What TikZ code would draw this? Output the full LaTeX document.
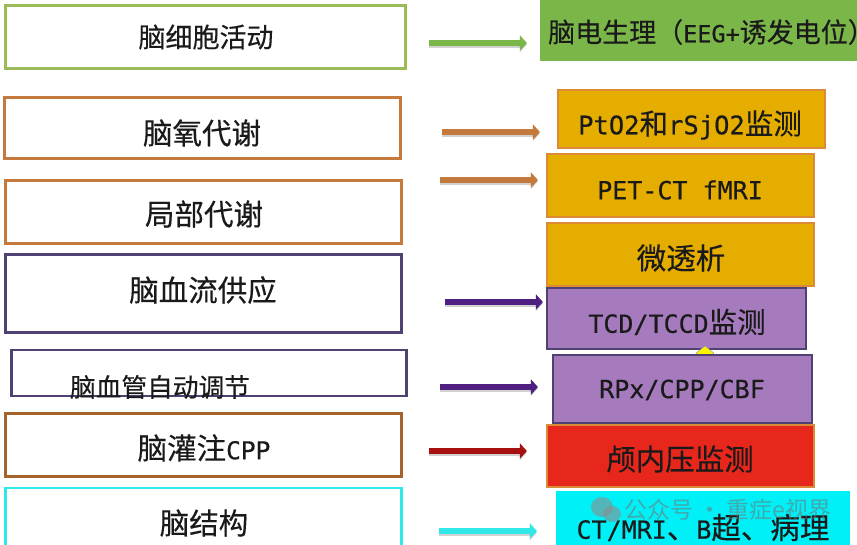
\documentclass[tikz,border=0pt]{standalone}
\usepackage{fontspec}
\newfontfamily\cjk{Noto Sans CJK SC}[FakeBold=0.35]
\newfontfamily\markfont{Noto Sans CJK SC}
\newfontfamily\lat{DejaVu Sans Mono}[FakeBold=0.5]
\newcommand{\latin}[2][25]{{\fontsize{#1}{30}\selectfont\lat #2}}
\usetikzlibrary{arrows.meta,shapes.geometric}
\definecolor{olivegreen}{HTML}{9BBB59}
\definecolor{leafgreen}{HTML}{7AB648}
\definecolor{rustline}{HTML}{C47A3C}
\definecolor{darkrust}{HTML}{A5622A}
\definecolor{amberfill}{HTML}{E5AD00}
\definecolor{amberline}{HTML}{DB8B35}
\definecolor{inkpurple}{HTML}{4F4272}
\definecolor{lilacfill}{HTML}{A67BBE}
\definecolor{deeppurple}{HTML}{4F1F82}
\definecolor{alarmred}{HTML}{E7271B}
\definecolor{darkred}{HTML}{A80F10}
\definecolor{brightcyan}{HTML}{00F0F8}
\definecolor{softcyan}{HTML}{30E8E8}
\definecolor{inktext}{HTML}{1A1A1A}
\tikzset{
  plainbox/.style={draw, line width=2.2pt, fill=white, inner sep=0pt},
  fullbox/.style={draw, line width=2.2pt, inner sep=0pt},
  boxtext/.style={text=inktext, inner sep=0pt, font=\fontsize{29.5}{32}\selectfont\cjk},
  midtext/.style={boxtext, font=\fontsize{28.5}{32}\selectfont\cjk},
  smalltext/.style={boxtext, font=\fontsize{27}{30}\selectfont\cjk},
  flowarrow/.style={line width=6pt, ->, >={Triangle[length=7pt,width=15pt]},
    preaction={draw, black, opacity=0.18, line width=6pt, transform canvas={yshift=-1.5pt}}},
}
\begin{document}
\begin{tikzpicture}[x=1pt,y=-1pt]
\clip (0,0) rectangle (857,544);

% left column
\node[plainbox, draw=olivegreen, minimum width=400, minimum height=63] (cellbox) at (205.5,37) {};
\node[plainbox, draw=rustline, minimum width=396, minimum height=61] (oxybox) at (202.5,128) {};
\node[plainbox, draw=rustline, minimum width=396, minimum height=63] (metabox) at (203.5,212) {};
\node[plainbox, draw=inkpurple, minimum width=396, minimum height=78] (flowbox) at (203.5,293.5) {};
\node[plainbox, draw=inkpurple, minimum width=395, minimum height=46] (autobox) at (209,373) {};
\node[plainbox, draw=darkrust, minimum width=396, minimum height=63] (perfbox) at (203.5,445) {};
\node[plainbox, draw=softcyan, minimum width=396, minimum height=70] (structbox) at (203.5,523) {};

\node[smalltext] (celltext) at (206,37) {脑细胞活动};
\node[boxtext] (oxytext) at (202,133) {脑氧代谢};
\node[boxtext] (metatext) at (204,214) {局部代谢};
\node[boxtext] (flowtext) at (203,290) {脑血流供应};
\node[boxtext, font=\fontsize{25.7}{30}\selectfont\cjk] (autotext) at (160,387) {脑血管自动调节};
\node[boxtext] (perftext) at (204,448) {脑灌注\latin[24.5]{CPP}};
\node[boxtext] (structtext) at (204,523) {脑结构};

% right column
\node[fullbox, draw=leafgreen, fill=leafgreen, minimum width=340, minimum height=62] (eegbox) at (711,29) {};
\node[fullbox, draw=amberline, fill=amberfill, minimum width=267, minimum height=58] (ptobox) at (691.5,119) {};
\node[fullbox, draw=amberline, fill=amberfill, minimum width=267, minimum height=63] (petbox) at (680.5,185.5) {};
\node[fullbox, draw=amberline, fill=amberfill, minimum width=267, minimum height=63] (microbox) at (680.5,254.5) {};
\node[fullbox, draw=inkpurple, fill=lilacfill, minimum width=259, minimum height=61] (tcdbox) at (676.5,318.5) {};
\node[diamond, draw=black!40, fill=yellow, inner sep=0pt, minimum width=18, minimum height=14] (gapmark) at (705,353) {};
\node[fullbox, draw=inkpurple, fill=lilacfill, minimum width=259, minimum height=68] (rpxbox) at (682.5,389) {};
\node[fullbox, draw=amberline, fill=alarmred, minimum width=267, minimum height=62] (icpbox) at (680.5,456) {};
\node[fullbox, draw=brightcyan, fill=brightcyan, minimum width=292, minimum height=70] (ctbox) at (703,527) {};

\node[smalltext, anchor=west] (eegtext) at (548,32) {脑电生理（\latin[23.5]{EEG+}诱发电位）};
\node[midtext] (ptotext) at (690,125) {\latin[25.5]{PtO2}和\latin[25.5]{rSjO2}监测};
\node[boxtext] (pettext) at (680,190) {\latin{PET-CT fMRI}};
\node[boxtext] (microtext) at (681,258) {微透析};
\node[midtext] (tcdtext) at (677,322) {\latin{TCD/TCCD}监测};
\node[boxtext] (rpxtext) at (682,390) {\latin{RPx/CPP/CBF}};
\node[boxtext] (icptext) at (680,459) {颅内压监测};
\node[boxtext] (cttext) at (703,527.5) {\latin{CT/MRI}、\latin{B}超、病理};

% watermark
\fill[black!45, opacity=0.6] (602,507) ellipse (11 and 10);
\fill[black!45, opacity=0.6] (612,514) ellipse (9 and 8);
\node[boxtext, text=black!55, opacity=0.55, font=\fontsize{23}{26}\selectfont\markfont] (marktext) at (728,510) {公众号 · 重症e视界};

% arrows
\coordinate (cellstart) at (429,43);
\coordinate (oxystart) at (442,132);
\coordinate (metastart) at (440,180);
\coordinate (flowstart) at (445,302);
\coordinate (autostart) at (440,387);
\coordinate (perfstart) at (429,451);
\coordinate (structstart) at (439,531);

\path[draw,flowarrow,leafgreen,shorten >=13] (cellstart) -- (cellstart -| eegbox.west);
\path[draw,flowarrow,rustline,shorten >=17] (oxystart) -- (oxystart -| ptobox.west);
\path[draw,flowarrow,rustline,shorten >=8] (metastart) -- (metastart -| petbox.west);
\path[draw,flowarrow,deeppurple,shorten >=3] (flowstart) -- (flowstart -| tcdbox.west);
\path[draw,flowarrow,deeppurple,shorten >=14] (autostart) -- (autostart -| rpxbox.west);
\path[draw,flowarrow,darkred,shorten >=19] (perfstart) -- (perfstart -| icpbox.west);
\path[draw,flowarrow,softcyan,shorten >=19] (structstart) -- (structstart -| ctbox.west);
\end{tikzpicture}
\end{document}
